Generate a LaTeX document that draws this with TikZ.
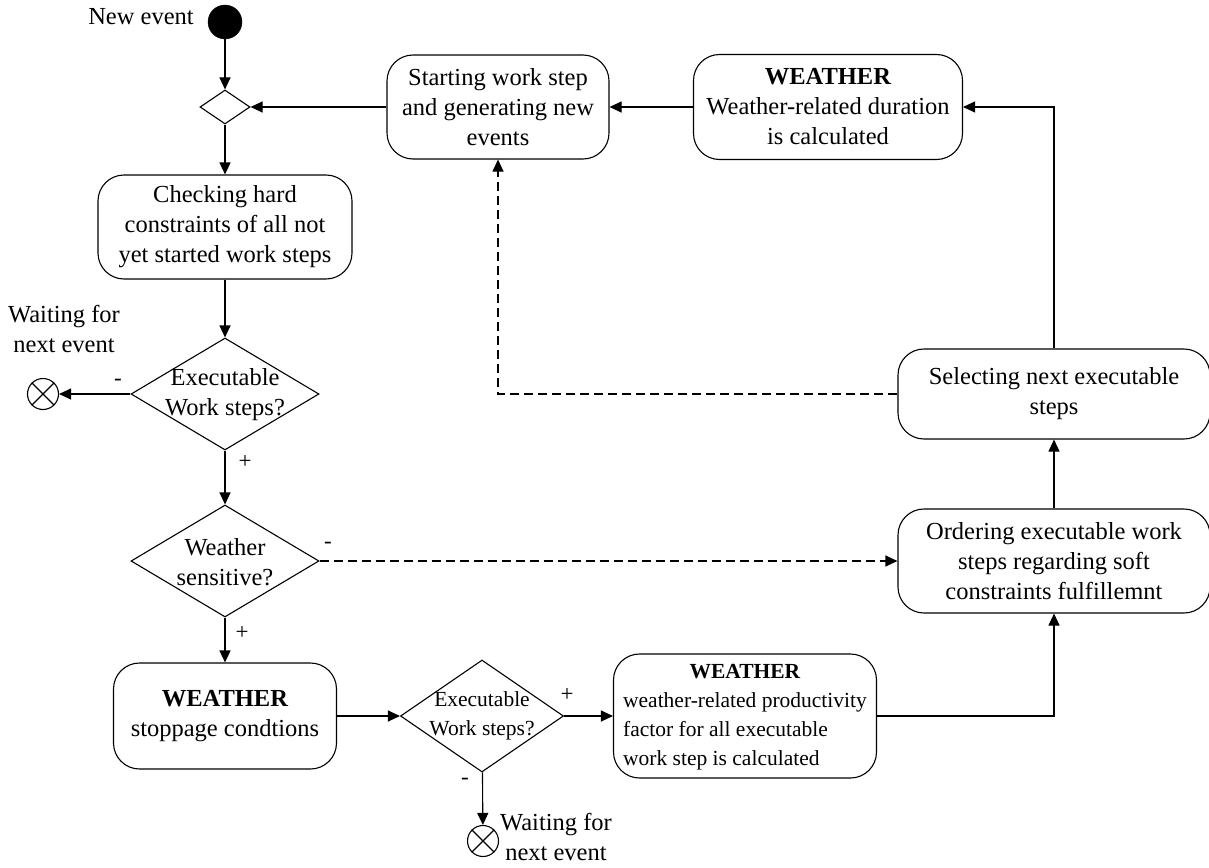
\documentclass[tikz,border=0pt]{standalone}
\usepackage{fontspec}
\setmainfont{Liberation Serif}
\usetikzlibrary{shapes.geometric,arrows.meta}
\begin{document}
\begin{tikzpicture}[x=1pt,y=-1pt,
  font=\fontsize{24.5}{30}\selectfont,
  box/.style={draw, rounded corners=26pt, line width=1.1pt, align=center, inner sep=0pt},
  dec/.style={draw, diamond, line width=1.1pt, inner sep=0pt},
  txt/.style={align=center, inner sep=0pt},
  small/.style={font=\fontsize{21.5}{29}\selectfont},
  lbl/.style={font=\fontsize{23}{26}\selectfont, inner sep=0pt},
  endnode/.style={circle, draw, line width=1.1pt, minimum size=31pt, inner sep=0pt},
  conn/.style={line width=1.1pt, -{Triangle[length=12pt,width=11pt]}},
  dconn/.style={conn, dash pattern=on 9pt off 5pt},
]
\useasboundingbox (0,0) rectangle (1209,867);

% nodes
\node[circle, draw, fill=black, minimum size=34pt, inner sep=0pt] (start) at (225,22) {};
\node[txt] (newev) at (141,17) {New event};
\node[dec, minimum width=50pt, minimum height=34pt] (merge) at (225,107) {};
\node[box, minimum width=254pt, minimum height=104pt] (check) at (225,227) {Checking hard\\constraints of all not\\yet started work steps};

\node[dec, minimum width=188pt, minimum height=112pt] (d1) at (225,394) {};
\node[txt] (d1t) at (225,395) {Executable\\Work steps?};
\node[endnode] (e1) at (43,394) {};
\draw[line width=1.1pt] (e1.north east) -- (e1.south west) (e1.north west) -- (e1.south east);
\node[txt] (w1) at (64,329) {Waiting for\\next event};

\node[dec, minimum width=188pt, minimum height=112pt] (d2) at (225,561) {};
\node[txt] (d2t) at (225,562) {Weather\\sensitive?};

\node[box, minimum width=223pt, minimum height=106pt] (stop) at (225,716) {\textbf{WEATHER}\\stoppage condtions};

\node[dec, minimum width=163pt, minimum height=112pt] (d3) at (482,716) {};
\node[txt, small] (d3t) at (482,716) {Executable\\Work steps?};
\node[endnode] (e2) at (483,841) {};
\draw[line width=1.1pt] (e2.north east) -- (e2.south west) (e2.north west) -- (e2.south east);
\node[txt] (w2) at (556,837) {Waiting for\\next event};

\node[box, small, minimum width=263pt, minimum height=124pt] (prod) at (745,716) {\begin{tabular}{@{}l@{}}\multicolumn{1}{@{}c@{}}{\textbf{WEATHER}}\\weather-related productivity\\factor for all executable\\work step is calculated\end{tabular}};

\node[box, minimum width=312pt, minimum height=104pt] (ord) at (1054,561) {Ordering executable work\\steps regarding soft\\constraints fulfillemnt};
\node[box, minimum width=312pt, minimum height=90pt] (sel) at (1054,394) {Selecting next executable\\steps};

\node[box, minimum width=269pt, minimum height=105pt] (wdur) at (828,107) {\textbf{WEATHER}\\Weather-related duration\\is calculated};
\node[box, minimum width=222pt, minimum height=104pt] (sws) at (498,107) {Starting work step\\and generating new\\events};

% labels
\node[lbl] (l1) at (118,382) {-};
\node[lbl] (l2) at (245,462) {+};
\node[lbl] (l3) at (328,545) {-};
\node[lbl] (l4) at (242,633) {+};
\node[lbl] (l5) at (567,695) {+};
\node[lbl] (l6) at (465,781) {-};

% connectors
\draw[conn] (start) -- (merge);
\draw[conn] (merge) -- (check);
\draw[conn] (check) -- (d1);
\draw[conn] (d1.west) -- (e1.east);
\draw[conn] (d1) -- (d2);
\draw[dconn] (d2.east) -- (ord.west);
\draw[conn] (d2) -- (stop);
\draw[conn] (stop.east) -- (d3.west);
\draw[conn] (d3) -- (e2);
\draw[conn] (d3.east) -- (prod.west);
\draw[conn] (prod.east) -| (ord.south);
\draw[conn] (ord) -- (sel);
\draw[conn] (sel.north) |- (wdur.east);
\draw[conn] (wdur) -- (sws);
\draw[conn] (sws) -- (merge);
\draw[dconn] (sel.west) -| (sws.south);
\end{tikzpicture}
\end{document}
